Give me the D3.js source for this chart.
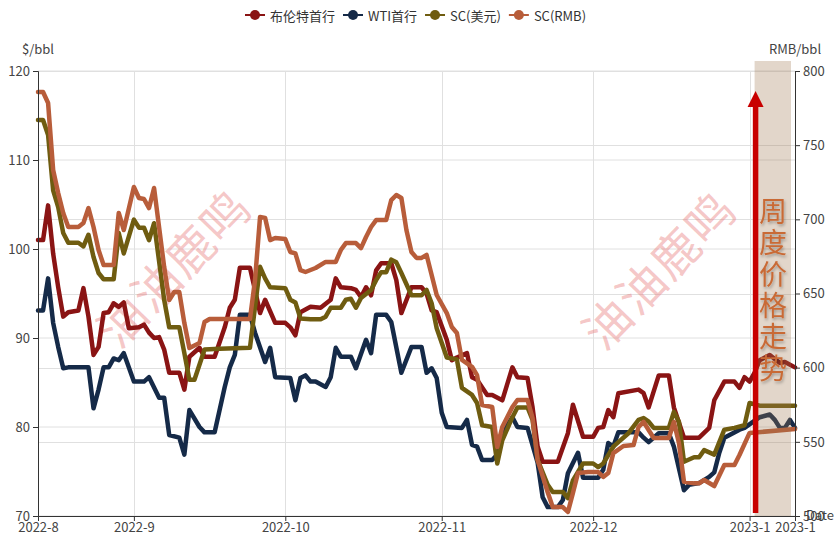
<!DOCTYPE html>
<html><head><meta charset="utf-8">
<script src="https://cdn.jsdelivr.net/npm/d3@7"></script>
<style>
body{margin:0;background:#fff;}
svg{display:block;font-family:"Noto Sans CJK SC","Noto Sans",sans-serif;}
</style>
</head><body>
<svg id="chart" width="836" height="535"></svg>
<script>
const seriesNames = ["布伦特首行", "WTI首行", "SC(美元)", "SC(RMB)"];
const seriesColors = ["#8a1414", "#152a48", "#6f5c10", "#b85d3a"];

const brent = [
["2022-08-13",101.0],["2022-08-14",101.0],["2022-08-15",104.9],["2022-08-16",99.5],["2022-08-17",95.7],["2022-08-18",92.4],["2022-08-19",92.9],["2022-08-21",93.1],["2022-08-22",95.6],["2022-08-23",92.4],["2022-08-24",88.1],["2022-08-25",89.0],["2022-08-26",92.8],["2022-08-27",92.9],["2022-08-28",93.9],["2022-08-29",93.5],["2022-08-30",94.0],["2022-08-31",91.1],
["2022-09-02",91.2],["2022-09-03",91.5],["2022-09-04",90.6],["2022-09-05",90.0],["2022-09-06",90.1],["2022-09-07",88.7],["2022-09-08",86.1],["2022-09-10",86.1],["2022-09-11",84.2],["2022-09-12",87.9],["2022-09-14",88.9],["2022-09-15",87.9],["2022-09-17",87.9],["2022-09-19",91.2],["2022-09-20",93.4],["2022-09-21",94.3],["2022-09-22",97.9],["2022-09-24",97.9],["2022-09-25",95.4],["2022-09-26",92.8],["2022-09-27",94.3],["2022-09-29",91.7],
["2022-10-01",91.7],["2022-10-02",91.2],["2022-10-03",90.3],["2022-10-04",92.9],["2022-10-06",93.5],["2022-10-08",93.4],["2022-10-10",94.3],["2022-10-11",96.7],["2022-10-12",95.7],["2022-10-14",95.6],["2022-10-15",95.4],["2022-10-16",94.6],["2022-10-17",95.7],["2022-10-18",94.8],["2022-10-19",97.6],["2022-10-20",98.4],["2022-10-22",98.4],["2022-10-23",96.5],["2022-10-24",92.8],["2022-10-26",95.7],["2022-10-28",95.7],["2022-10-29",95.0],["2022-10-30",93.1],["2022-10-31",92.9],
["2022-11-02",89.8],["2022-11-03",87.5],["2022-11-04",87.8],["2022-11-06",88.3],["2022-11-07",85.6],["2022-11-08",85.3],["2022-11-10",83.6],["2022-11-11",83.6],["2022-11-13",83.0],["2022-11-15",86.7],["2022-11-16",85.6],["2022-11-18",85.5],["2022-11-19",82.2],["2022-11-20",77.8],["2022-11-21",76.1],["2022-11-24",76.1],["2022-11-26",79.3],["2022-11-27",82.5],["2022-11-29",78.9],
["2022-12-01",78.9],["2022-12-02",79.9],["2022-12-03",80.0],["2022-12-04",81.9],["2022-12-05",81.1],["2022-12-06",83.8],["2022-12-10",84.2],["2022-12-11",83.8],["2022-12-12",82.2],["2022-12-14",85.8],["2022-12-16",85.8],["2022-12-17",82.2],["2022-12-19",78.8],["2022-12-22",78.8],["2022-12-24",79.9],["2022-12-25",83.0],["2022-12-27",85.1],["2022-12-29",85.1],["2022-12-30",84.4],["2022-12-31",85.6],
["2023-01-01",85.1],["2023-01-02",86.1],["2023-01-03",87.5],["2023-01-05",88.1],["2023-01-07",87.2],["2023-01-08",87.3],["2023-01-10",86.7]
];

const wti = [
["2022-08-13",93.1],["2022-08-14",93.1],["2022-08-15",96.7],["2022-08-16",91.7],["2022-08-17",89.0],["2022-08-18",86.6],["2022-08-19",86.7],["2022-08-23",86.7],["2022-08-24",82.1],["2022-08-25",84.2],["2022-08-26",86.7],["2022-08-27",86.7],["2022-08-28",87.7],["2022-08-29",87.5],["2022-08-30",88.3],
["2022-09-01",85.1],["2022-09-03",85.1],["2022-09-04",85.6],["2022-09-06",83.3],["2022-09-07",83.3],["2022-09-08",79.1],["2022-09-10",78.8],["2022-09-11",76.9],["2022-09-12",81.9],["2022-09-14",80.0],["2022-09-15",79.4],["2022-09-17",79.4],["2022-09-19",84.5],["2022-09-20",86.7],["2022-09-21",88.1],["2022-09-22",92.6],["2022-09-24",92.6],["2022-09-25",90.6],["2022-09-27",87.3],["2022-09-28",88.9],["2022-09-29",85.6],
["2022-10-02",85.5],["2022-10-03",83.0],["2022-10-04",85.5],["2022-10-05",85.8],["2022-10-06",85.1],["2022-10-07",85.1],["2022-10-09",84.5],["2022-10-10",85.6],["2022-10-11",88.9],["2022-10-12",87.9],["2022-10-14",87.9],["2022-10-15",86.6],["2022-10-17",89.8],["2022-10-18",88.3],["2022-10-19",92.6],["2022-10-21",92.6],["2022-10-22",91.8],["2022-10-24",86.1],["2022-10-26",89.0],["2022-10-28",89.0],["2022-10-29",86.1],["2022-10-30",86.6],["2022-10-31",85.5],
["2022-11-01",81.6],["2022-11-02",80.0],["2022-11-05",79.9],["2022-11-06",80.8],["2022-11-07",78.0],["2022-11-08",77.8],["2022-11-09",76.3],["2022-11-11",76.3],["2022-11-12",76.9],["2022-11-13",79.3],["2022-11-15",81.1],["2022-11-16",80.0],["2022-11-18",79.9],["2022-11-20",76.0],["2022-11-21",72.1],["2022-11-22",71.0],["2022-11-24",71.0],["2022-11-25",71.8],["2022-11-26",74.8],["2022-11-28",77.1],["2022-11-29",74.3],
["2022-12-02",74.3],["2022-12-03",75.2],["2022-12-04",78.2],["2022-12-05",77.8],["2022-12-06",79.4],["2022-12-10",79.4],["2022-12-11",78.8],["2022-12-12",78.3],["2022-12-14",79.3],["2022-12-16",79.3],["2022-12-17",77.8],["2022-12-19",72.9],["2022-12-20",73.5],["2022-12-22",73.7],["2022-12-24",74.4],["2022-12-25",74.9],["2022-12-26",77.1],["2022-12-27",78.8],["2022-12-30",79.7],["2022-12-31",79.9],
["2023-01-03",81.1],["2023-01-05",81.4],["2023-01-06",80.8],["2023-01-07",79.9],["2023-01-08",79.9],["2023-01-09",80.8],["2023-01-10",79.9]
];

const scUsd = [
["2022-08-13",114.5],["2022-08-14",114.5],["2022-08-15",112.8],["2022-08-16",106.6],["2022-08-17",104.7],["2022-08-18",101.8],["2022-08-19",100.7],["2022-08-21",100.7],["2022-08-22",100.3],["2022-08-23",101.6],["2022-08-24",99.1],["2022-08-25",97.3],["2022-08-26",96.6],["2022-08-28",96.6],["2022-08-29",101.8],["2022-08-30",99.5],
["2022-09-01",103.3],["2022-09-02",102.4],["2022-09-03",102.4],["2022-09-04",101.0],["2022-09-05",102.9],["2022-09-07",94.3],["2022-09-08",91.2],["2022-09-10",91.2],["2022-09-11",88.3],["2022-09-12",85.3],["2022-09-13",85.3],["2022-09-15",88.7],["2022-09-18",88.8],["2022-09-24",88.9],["2022-09-25",93.5],["2022-09-26",98.0],["2022-09-27",96.7],["2022-09-28",95.7],
["2022-10-01",95.6],["2022-10-02",94.3],["2022-10-03",94.0],["2022-10-04",92.2],["2022-10-06",92.1],["2022-10-08",92.1],["2022-10-09",92.4],["2022-10-10",93.4],["2022-10-12",93.4],["2022-10-13",94.3],["2022-10-14",94.4],["2022-10-15",93.4],["2022-10-16",94.5],["2022-10-18",95.4],["2022-10-19",96.5],["2022-10-20",97.4],["2022-10-21",97.4],["2022-10-22",98.8],["2022-10-23",98.5],["2022-10-24",97.3],["2022-10-26",94.8],["2022-10-28",94.8],["2022-10-29",95.4],["2022-10-30",93.9],["2022-10-31",91.1],
["2022-11-02",87.8],["2022-11-04",87.6],["2022-11-05",84.4],["2022-11-07",83.6],["2022-11-08",82.7],["2022-11-09",80.2],["2022-11-11",80.0],["2022-11-12",75.9],["2022-11-13",78.5],["2022-11-15",81.1],["2022-11-16",82.2],["2022-11-18",82.2],["2022-11-19",80.8],["2022-11-20",76.3],["2022-11-22",73.5],["2022-11-23",72.7],["2022-11-25",72.7],["2022-11-26",72.0],["2022-11-27",74.0],["2022-11-29",75.9],
["2022-12-01",75.9],["2022-12-02",75.5],["2022-12-03",75.9],["2022-12-05",77.8],["2022-12-06",78.3],["2022-12-08",79.3],["2022-12-10",80.8],["2022-12-11",81.0],["2022-12-12",80.6],["2022-12-13",79.9],["2022-12-16",79.9],["2022-12-17",81.7],["2022-12-18",80.6],["2022-12-19",76.1],["2022-12-21",76.6],["2022-12-22",76.6],["2022-12-23",77.4],["2022-12-25",76.9],["2022-12-27",79.7],["2022-12-29",79.9],["2022-12-31",80.2],
["2023-01-01",82.7],["2023-01-03",82.4],["2023-01-10",82.4]
];

const scRmb = [
["2022-08-13",785.8],["2022-08-14",785.8],["2022-08-15",778.4],["2022-08-16",733.3],["2022-08-17",717.7],["2022-08-18",704.3],["2022-08-19",694.8],["2022-08-21",694.8],["2022-08-22",697.5],["2022-08-23",707.6],["2022-08-24",694.8],["2022-08-25",679.3],["2022-08-26",669.2],["2022-08-28",669.2],["2022-08-29",704.3],["2022-08-30",692.8],
["2022-09-01",721.8],["2022-09-02",714.4],["2022-09-03",713.7],["2022-09-04",707.6],["2022-09-05",721.1],["2022-09-07",667.9],["2022-09-08",645.6],["2022-09-09",651.0],["2022-09-10",651.0],["2022-09-11",630.1],["2022-09-12",613.2],["2022-09-14",616.6],["2022-09-15",630.8],["2022-09-16",632.8],["2022-09-24",632.8],["2022-09-25",659.0],["2022-09-26",701.6],["2022-09-27",701.0],["2022-09-28",686.0],["2022-09-29",687.4],
["2022-10-01",686.7],["2022-10-02",678.0],["2022-10-03",677.0],["2022-10-04",665.8],["2022-10-05",664.5],["2022-10-07",667.2],["2022-10-09",671.3],["2022-10-11",671.3],["2022-10-12",679.3],["2022-10-13",684.0],["2022-10-15",684.0],["2022-10-16",680.6],["2022-10-17",688.1],["2022-10-18",694.8],["2022-10-19",699.5],["2022-10-21",699.5],["2022-10-22",713.0],["2022-10-23",716.4],["2022-10-24",714.4],["2022-10-25",692.8],["2022-10-26",678.0],["2022-10-27",674.0],["2022-10-28",674.0],["2022-10-29",676.0],["2022-10-30",662.5],["2022-10-31",649.0],
["2022-11-02",636.8],["2022-11-03",627.4],["2022-11-04",623.4],["2022-11-05",605.2],["2022-11-07",600.6],["2022-11-08",595.0],["2022-11-09",574.8],["2022-11-11",573.5],["2022-11-12",546.5],["2022-11-13",560.0],["2022-11-15",573.5],["2022-11-16",578.2],["2022-11-18",578.2],["2022-11-19",566.0],["2022-11-20",537.7],["2022-11-22",516.0],["2022-11-23",506.0],["2022-11-25",506.0],["2022-11-26",502.7],["2022-11-27",515.5],["2022-11-28",529.0],["2022-11-30",529.6],
["2022-12-02",529.6],["2022-12-03",526.3],["2022-12-04",529.0],["2022-12-05",542.4],["2022-12-07",547.2],["2022-12-09",547.8],["2022-12-10",560.0],["2022-12-11",563.4],["2022-12-13",552.6],["2022-12-16",552.6],["2022-12-17",563.4],["2022-12-18",549.2],["2022-12-19",523.0],["2022-12-21",522.0],["2022-12-22",522.0],["2022-12-23",524.3],["2022-12-25",520.2],["2022-12-27",534.4],["2022-12-29",534.4],["2022-12-30",541.1],
["2023-01-01",556.0],["2023-01-10",558.6]
];

const leftTicks = [70, 80, 90, 100, 110, 120];
const rightTicks = [500, 550, 600, 650, 700, 750, 800];
const xTickDates = ["2022-08-13", "2022-09-01", "2022-10-01", "2022-11-01", "2022-12-01", "2023-01-01", "2023-01-10"];
const xDomain = ["2022-08-13", "2023-01-10"];
const leftAxisName = "$/bbl";
const rightAxisName = "RMB/bbl";
const xAxisName = "Date";
const sideNote = "周度价格走势";
const watermark = "油油鹿鸣";

const parse = d3.timeParse("%Y-%m-%d");
const fmt = d3.timeFormat("%Y-%-m");
const svg = d3.select("#chart");
const L = 38, R = 795, T = 71, B = 516;

const x = d3.scaleTime().domain(xDomain.map(parse)).range([L, R]);
const yL = d3.scaleLinear().domain([70, 120]).range([B, T]);
const yR = d3.scaleLinear().domain([500, 800]).range([B, T]);

// grid
const grid = svg.append("g");
grid.selectAll(".hl").data(leftTicks).join("line")
  .attr("x1", L).attr("x2", R).attr("y1", d => yL(d)).attr("y2", d => yL(d))
  .attr("stroke", "#e0e0e0").attr("stroke-width", 1);
grid.selectAll(".hr").data(rightTicks).join("line")
  .attr("x1", L).attr("x2", R).attr("y1", d => Math.round(yR(d)) + 0.5).attr("y2", d => Math.round(yR(d)) + 0.5)
  .attr("stroke", "#e0e0e0").attr("stroke-width", 1);
grid.selectAll(".v").data(xTickDates.slice(1, -1).map(parse)).join("line")
  .attr("x1", d => Math.round(x(d)) + 0.5).attr("x2", d => Math.round(x(d)) + 0.5).attr("y1", T).attr("y2", B)
  .attr("stroke", "#e0e0e0").attr("stroke-width", 1);

// watermarks
[[172, 266], [657, 268]].forEach(([cx, cy]) => {
  svg.append("text").attr("transform", `translate(${cx},${cy}) rotate(-46)`)
    .attr("text-anchor", "middle").attr("dominant-baseline", "central")
    .attr("font-size", 47).attr("fill", "rgba(232,120,120,0.42)")
    .attr("letter-spacing", 2)
    .text(watermark);
});

// lines
const allSeries = [
  { data: brent, y: yL, color: seriesColors[0] },
  { data: wti, y: yL, color: seriesColors[1] },
  { data: scUsd, y: yL, color: seriesColors[2] },
  { data: scRmb, y: yR, color: seriesColors[3] }
];
allSeries.forEach(s => {
  const line = d3.line().x(d => x(parse(d[0]))).y(d => s.y(d[1]));
  svg.append("path").attr("d", line(s.data)).attr("fill", "none")
    .attr("stroke", s.color).attr("stroke-width", 4.5)
    .attr("stroke-linejoin", "round").attr("stroke-linecap", "round");
});

// axes
const axisColor = "#333";
const labelColor = "#444";
const gL = svg.append("g").attr("transform", `translate(${L},0)`)
  .call(d3.axisLeft(yL).tickValues(leftTicks).tickSize(5).tickPadding(3));
const gR = svg.append("g").attr("transform", `translate(${R},0)`)
  .call(d3.axisRight(yR).tickValues(rightTicks).tickSize(5).tickPadding(3));
const gX = svg.append("g").attr("transform", `translate(0,${B})`)
  .call(d3.axisBottom(x).tickValues(xTickDates.map(parse)).tickFormat(fmt).tickSize(5).tickPadding(2));
[gL, gR, gX].forEach(g => {
  g.select(".domain").attr("stroke", axisColor);
  g.selectAll(".tick line").attr("stroke", axisColor);
  g.selectAll(".tick text").attr("fill", labelColor).attr("font-size", 13)
    .attr("font-family", '"Noto Sans CJK SC","Noto Sans",sans-serif');
});
gX.selectAll(".tick").filter((d, i) => i === 0 || i === xTickDates.length - 1).select("line").remove();

svg.append("text").attr("x", L).attr("y", 50).attr("text-anchor", "middle")
  .attr("dominant-baseline", "middle").attr("font-size", 13).attr("fill", labelColor).text(leftAxisName);
svg.append("text").attr("x", R).attr("y", 50).attr("text-anchor", "middle")
  .attr("dominant-baseline", "middle").attr("font-size", 13).attr("fill", labelColor).text(rightAxisName);
svg.append("text").attr("x", 806).attr("y", B).attr("dominant-baseline", "middle")
  .attr("font-size", 13).attr("fill", labelColor).text(xAxisName);

// highlight band
const jan1 = parse(xTickDates[5]);
const bx = x(jan1) + 5;
svg.append("rect").attr("x", bx).attr("y", 61).attr("width", R - 4 - bx).attr("height", B - 61)
  .attr("fill", "rgb(160,118,78)").attr("opacity", 0.3);

// arrow
const ax = x(jan1) + 6;
svg.append("line").attr("x1", ax).attr("x2", ax).attr("y1", 513).attr("y2", 104)
  .attr("stroke", "#c80000").attr("stroke-width", 5.5);
svg.append("path").attr("d", `M${ax - 8},${107} L${ax},${91} L${ax + 8},${107} Z`).attr("fill", "#c80000");

// side note
const defs = svg.append("defs");
const f = defs.append("filter").attr("id", "sh").attr("x", "-50%").attr("y", "-50%").attr("width", "200%").attr("height", "200%");
f.append("feDropShadow").attr("dx", 1).attr("dy", 2).attr("stdDeviation", 1.5).attr("flood-color", "#000").attr("flood-opacity", 0.3);
const note = svg.append("text").attr("font-size", 28).attr("fill", "#c96a36").attr("text-anchor", "middle")
  .attr("filter", "url(#sh)");
sideNote.split("").forEach((ch, i) => {
  note.append("tspan").attr("x", 773).attr("y", 210 + i * 31.3).attr("dominant-baseline", "central").text(ch);
});

// legend
const lg = svg.append("g");
let lx = 245;
seriesNames.forEach((name, i) => {
  const g = lg.append("g").attr("transform", `translate(${lx},15)`);
  g.append("line").attr("x1", 0).attr("x2", 20).attr("y1", 0).attr("y2", 0)
    .attr("stroke", seriesColors[i]).attr("stroke-width", 2);
  g.append("circle").attr("cx", 10).attr("cy", 0).attr("r", 5).attr("fill", seriesColors[i]);
  const t = g.append("text").attr("x", 25).attr("y", 0).attr("dominant-baseline", "central")
    .attr("font-size", 13).attr("fill", "#333").text(name);
  lx += 25 + t.node().getComputedTextLength() + 8;
});
</script>
</body></html>
